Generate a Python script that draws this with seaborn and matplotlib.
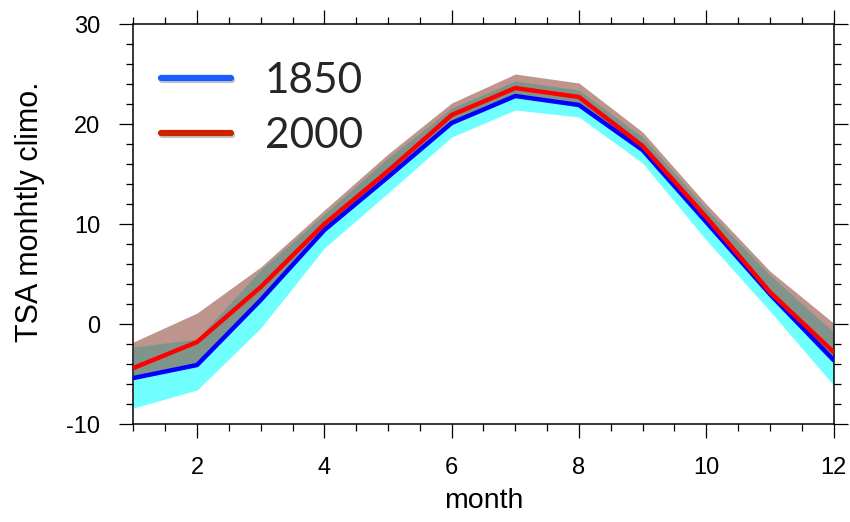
import matplotlib
matplotlib.use("Agg")
import matplotlib.pyplot as plt
import matplotlib.patheffects as pe
from matplotlib.lines import Line2D
from matplotlib.ticker import MultipleLocator
import seaborn as sns
import pandas as pd

# ---- data ----
months = [1, 2, 3, 4, 5, 6, 7, 8, 9, 10, 11, 12]
tsa_1850 = [-5.4, -4.1, 2.4, 9.4, 14.7, 20.1, 22.8, 21.9, 17.4, 10.2, 3.0, -3.6]
tsa_2000 = [-4.4, -1.8, 3.7, 10.0, 15.3, 20.9, 23.6, 22.7, 17.8, 10.7, 3.2, -2.8]
lo_1850 = [-8.4, -6.6, -0.4, 7.6, 13.1, 18.7, 21.4, 20.7, 16.1, 8.4, 1.3, -6.1]
hi_1850 = [-2.3, -1.5, 5.4, 11.0, 16.6, 21.6, 24.3, 23.4, 18.7, 11.5, 4.9, -0.8]
lo_2000 = [-5.3, -4.0, 2.5, 9.5, 14.8, 20.2, 22.9, 22.0, 17.5, 10.3, 3.1, -3.5]
hi_2000 = [-1.8, 1.1, 5.7, 11.4, 17.0, 22.1, 25.0, 24.1, 19.2, 12.0, 5.3, 0.1]
labels = ["1850", "2000"]
xticks = [2, 4, 6, 8, 10, 12]
yticks = [-10, 0, 10, 20, 30]

df = pd.DataFrame({
    "month": months * 2,
    "TSA": tsa_1850 + tsa_2000,
    "case": [labels[0]] * 12 + [labels[1]] * 12,
})

sns.set_theme(style="ticks")
plt.rcParams["font.family"] = ["Liberation Sans", "DejaVu Sans"]
plt.rcParams["axes.unicode_minus"] = False

fig = plt.figure(figsize=(8.5, 5.22), dpi=100)
ax = fig.add_axes([0.157, 0.1877, 0.8236, 0.7663])

ax.fill_between(months, lo_1850, hi_1850, color="#70ffff", lw=0, zorder=1)
ax.fill_between(months, lo_2000, hi_2000, color=(0.55, 0.27, 0.21), alpha=0.57, lw=0, zorder=2)

sns.lineplot(data=df, x="month", y="TSA", hue="case",
             palette={labels[0]: "#0000ff", labels[1]: "#ff0000"},
             linewidth=3.2, legend=False, ax=ax, zorder=3)

ax.set_xlim(1, 12)
ax.set_ylim(-10, 30)
ax.set_xticks(xticks)
ax.set_yticks(yticks)
ax.xaxis.set_minor_locator(MultipleLocator(0.5))
ax.yaxis.set_minor_locator(MultipleLocator(2))
ax.tick_params(which="both", direction="out", top=True, right=True,
               labeltop=False, labelright=False, color="black", width=0.9)
ax.tick_params(which="major", length=10, labelsize=17, pad=14, labelcolor="black")
ax.tick_params(which="minor", length=5)
for s in ax.spines.values():
    s.set_visible(True)
    s.set_linewidth(1.1)
    s.set_color("black")

ax.set_xlabel("month", fontsize=20.5, color="black")
ax.set_ylabel("TSA monhtly climo.", fontsize=22, color="black")
ax.xaxis.set_label_coords(0.5, -0.16)
ax.yaxis.set_label_coords(-0.127, 0.53)

shadow = [pe.SimpleLineShadow(offset=(1, -1.5), alpha=0.25), pe.Normal()]
handles = [
    Line2D([], [], color="#1a5cff", lw=4.5, path_effects=shadow),
    Line2D([], [], color="#cc2200", lw=4.5, path_effects=shadow),
]
leg = ax.legend(handles, labels, loc="upper left", bbox_to_anchor=(0.039, 0.905),
                frameon=False, borderpad=0, borderaxespad=0,
                handlelength=1.65, handletextpad=0.8, labelspacing=0.39,
                prop={"family": "Lato", "size": 30.5})

fig.savefig("out.png", dpi=100)
